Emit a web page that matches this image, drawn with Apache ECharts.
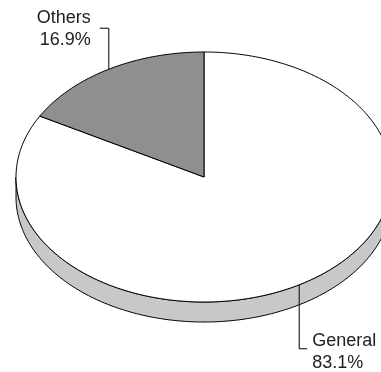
<!DOCTYPE html>
<html><head><meta charset="utf-8">
<script src="https://cdn.jsdelivr.net/npm/echarts@6/dist/echarts.min.js"></script>
<style>html,body{margin:0;padding:0;background:#fff}#c{width:381px;height:372px}</style>
</head><body><div id="c"></div>
<script>
const categories = ['General', 'Others'];
const values = [83.1, 16.9];
const topColors = ['#ffffff', '#8f8f8f'];
const sideColors = ['#c8c8c8', '#6a6a6a'];

const CX = 204, CY = 177, RX = 188, RY = 125, DEPTH = 20;
const total = values.reduce((a, b) => a + b, 0);
const starts = [];
let acc = 0;
values.forEach(v => { starts.push(acc / total * 360); acc += v; });

function pt(phi, dy) {
  const r = phi * Math.PI / 180;
  return [CX + RX * Math.sin(r), CY - RY * Math.cos(r) + (dy || 0)];
}
function arcPts(a, b, dy) {
  const n = Math.max(2, Math.ceil(Math.abs(b - a)));
  const out = [];
  for (let i = 0; i <= n; i++) out.push(pt(a + (b - a) * i / n, dy));
  return out;
}

const chart = echarts.init(document.getElementById('c'), null, { renderer: 'canvas' });

function sideItem(params, api) {
  const i = params.dataIndex;
  const a = starts[i], b = a + api.value(0) / total * 360;
  const children = [];
  [[90, 270], [450, 630]].forEach(([lo, hi]) => {
    const s = Math.max(a, lo), e = Math.min(b, hi);
    if (e > s) {
      const pts = arcPts(s, e, 0).concat(arcPts(s, e, DEPTH).reverse());
      children.push({ type: 'polygon', shape: { points: pts },
        style: { fill: sideColors[i], stroke: '#000', lineWidth: 1 } });
    }
  });
  return { type: 'group', children };
}

function topItem(params, api) {
  const i = params.dataIndex;
  const v = api.value(0);
  const a = starts[i], b = a + v / total * 360;
  const pts = [[CX, CY]].concat(arcPts(a, b, 0));
  const mid = (a + b) / 2;
  const r = mid * Math.PI / 180;
  const p = pt(mid, 0);
  const down = Math.cos(r) < 0;
  const right = Math.sin(r) > 0;
  const y2 = down ? p[1] + DEPTH + 44 : p[1] - 41;
  const x2 = p[0] + (right ? 8 : -9);
  const pct = (v / total * 100).toFixed(1) + '%';
  return {
    type: 'group',
    children: [
      { type: 'polygon', shape: { points: pts },
        style: { fill: topColors[i], stroke: '#000', lineWidth: 1 } },
      { type: 'polyline', shape: { points: [p, [p[0], y2], [x2, y2]] },
        style: { fill: null, stroke: '#000', lineWidth: 1 }, z2: 10 },
      { type: 'text', x: x2 + (right ? 5 : -9), y: y2 + (down ? 3 : 1), z2: 10,
        style: { text: categories[i] + '\n' + pct, fill: '#222',
          font: '18px "Liberation Sans", Arial, sans-serif', lineHeight: 22,
          align: right ? 'left' : 'right', verticalAlign: 'middle',
          textAlign: right ? 'left' : 'right', textVerticalAlign: 'middle' } }
    ]
  };
}

chart.setOption({
  animation: false,
  backgroundColor: '#fff',
  series: [
    { type: 'custom', coordinateSystem: 'none', renderItem: sideItem, data: values, z: 1, silent: true },
    { type: 'custom', coordinateSystem: 'none', renderItem: topItem, data: values, z: 2, silent: true }
  ]
});
</script></body></html>
